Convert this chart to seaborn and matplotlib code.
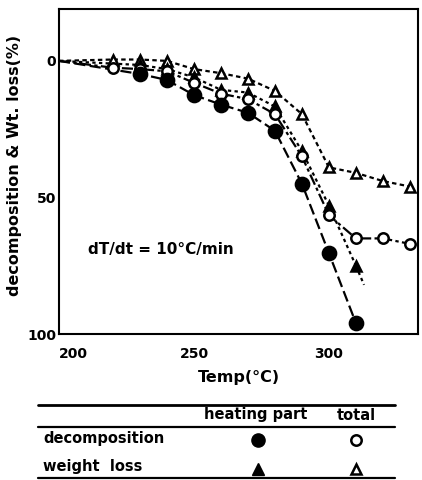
import numpy as np
import matplotlib
matplotlib.use('Agg')
import matplotlib.pyplot as plt
import seaborn as sns
from matplotlib.lines import Line2D

# --- Dados ---
temp_total_wl = [200, 220, 230, 240, 250, 260, 270, 280, 290, 300, 310, 320, 330]
total_wl = [0, -0.5, -0.5, 0, 3, 4.5, 6.5, 11, 19.5, 39, 41, 44, 46]

temp_total_dec = [200, 220, 230, 240, 250, 260, 270, 280, 290, 300, 310, 320, 330]
total_dec = [0, 2.5, 3, 3.8, 8, 12, 14, 19.5, 35, 56.5, 65, 65, 67]

temp_heat_wl = [200, 230, 240, 250, 260, 270, 280, 290, 300, 310]
heat_wl = [0, 1.5, 3, 6, 10.6, 11.6, 16.7, 33, 53, 75]

temp_heat_dec = [200, 230, 240, 250, 260, 270, 280, 290, 300, 310]
heat_dec = [0, 4.8, 7, 12.5, 16, 19, 25.6, 45, 70.4, 96]

xticks = [200, 250, 300]
yticks = [0, 50, 100]

sns.set_theme(style="white")
plt.rcParams['font.family'] = ['DejaVu Sans']
plt.rcParams['font.weight'] = 'bold'
plt.rcParams['text.color'] = 'black'
plt.rcParams['axes.labelcolor'] = 'black'
plt.rcParams['xtick.color'] = 'black'
plt.rcParams['ytick.color'] = 'black'

fig = plt.figure(figsize=(4.22, 4.8), dpi=100)
ax = fig.add_axes([59 / 422, 1 - 334 / 480, 359 / 422, 325 / 480])

series = [
    (temp_total_wl, total_wl, '^', 'white', (0, (2, 1.5)), 7.5),
    (temp_heat_wl, heat_wl, '^', 'black', (0, (1.5, 1.5)), 7),
    (temp_total_dec, total_dec, 'o', 'white', (0, (5, 1.5, 1.5, 1.5)), 7.5),
    (temp_heat_dec, heat_dec, 'o', 'black', (0, (5, 2)), 9.5),
]
for xs, ys, mk, fc, ls, ms in series:
    sns.lineplot(x=xs[1:], y=ys[1:], ax=ax, color='black', linestyle='',
                 marker=mk, markerfacecolor=fc, markeredgecolor='black',
                 markeredgewidth=1.8, markersize=ms, sort=False, zorder=3)
    sns.lineplot(x=xs, y=ys, ax=ax, color='black', linestyle=ls,
                 linewidth=1.6, sort=False, zorder=2)

# prolongamento da curva tracejada (peso, parte aquecida)
ax.plot([310, 313], [75, 82], color='black', linestyle=(0, (1.5, 1.5)), linewidth=1.6)

ax.set_xlim(200, 333)
ax.set_ylim(100, -19)
ax.set_xticks(xticks)
ax.set_yticks(yticks)
ax.set_xticklabels([str(t) for t in xticks], fontsize=10, fontweight='bold')
ax.set_yticklabels([str(t) for t in yticks], fontsize=10, fontweight='bold')
ax.tick_params(axis='y', direction='in', length=3, width=1.2, pad=2)
ax.tick_params(axis='x', direction='in', length=3, width=1.2, pad=9)
ax.get_xticklabels()[0].set_horizontalalignment('left')
for sp in ax.spines.values():
    sp.set_linewidth(1.5)
    sp.set_color('black')
ax.set_xlabel('Temp(°C)', fontsize=11.5, fontweight='bold', labelpad=7)
ax.set_ylabel('decomposition & Wt. loss(%)', fontsize=11.5, fontweight='bold')
ax.yaxis.set_label_coords(-0.103, 0.52)
ax.text(0.08, 0.26, 'dT/dt = 10°C/min', transform=ax.transAxes, fontsize=11,
        fontweight='bold', va='center')

# --- Tabela de legenda ---
def px(x, y):
    return x / 422, 1 - y / 480

for y, lw in [(405, 2.0), (427, 1.6), (478, 1.6)]:
    fig.add_artist(Line2D([38 / 422, 395 / 422], [1 - y / 480] * 2, color='black', linewidth=lw))

fs_tab = 10.5
fig.text(*px(256, 415), 'heating part', ha='center', va='center', fontsize=fs_tab, fontweight='bold')
fig.text(*px(356, 415), 'total', ha='center', va='center', fontsize=fs_tab, fontweight='bold')
fig.text(*px(43, 439), 'decomposition', ha='left', va='center', fontsize=fs_tab, fontweight='bold')
fig.text(*px(43, 467), 'weight  loss', ha='left', va='center', fontsize=fs_tab, fontweight='bold')

leg_ax = fig.add_axes([0, 0, 1, 1], facecolor='none')
leg_ax.set_xlim(0, 422)
leg_ax.set_ylim(480, 0)
leg_ax.axis('off')
leg_ax.plot([258], [440], 'o', color='black', markersize=9.5)
leg_ax.plot([356], [440], 'o', markerfacecolor='white', markeredgecolor='black', markeredgewidth=1.8, markersize=7.5)
leg_ax.plot([258], [469], '^', color='black', markersize=8)
leg_ax.plot([356], [469], '^', markerfacecolor='white', markeredgecolor='black', markeredgewidth=1.8, markersize=7.5)

fig.savefig('out.png', dpi=100)
